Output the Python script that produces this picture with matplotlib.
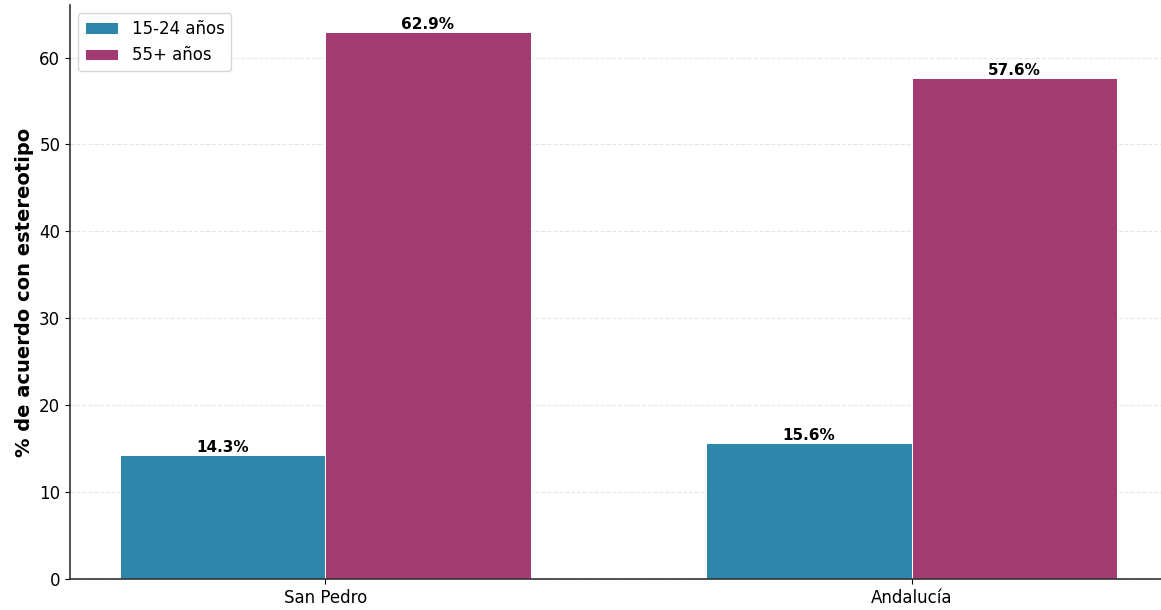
import numpy as np
import matplotlib
matplotlib.use("Agg")
from matplotlib import pyplot as plt

regions = ["San Pedro", "Andalucía"]
young = [14.3, 15.6]
old = [62.9, 57.6]
series_labels = ["15-24 años", "55+ años"]

W, H = 1161, 610
fig = plt.figure(figsize=(W / 100, H / 100), dpi=100)
ax = fig.add_axes([70 / W, 31 / H, 1097 / W, 574 / H])

x = np.arange(len(regions))
width = 0.35
b1 = ax.bar(x - width / 2, young, width, label=series_labels[0], color="#2E86AB",
            edgecolor="white", linewidth=0.7)
b2 = ax.bar(x + width / 2, old, width, label=series_labels[1], color="#A23B72",
            edgecolor="white", linewidth=0.7)

for bars in (b1, b2):
    for bar in bars:
        h = bar.get_height()
        ax.text(bar.get_x() + bar.get_width() / 2, h, f"{h:.1f}%",
                ha="center", va="bottom", fontsize=11, fontweight="bold")

ax.set_xticks(x)
ax.set_xticklabels(regions, fontsize=12)
ax.tick_params(axis="y", labelsize=12)
ax.set_ylabel("% de acuerdo con estereotipo", fontsize=14, fontweight="bold")
ax.set_ylim(0, max(old) * 1.05)
ax.yaxis.grid(True, linestyle="--", alpha=0.3)
ax.set_axisbelow(True)
ax.spines["top"].set_visible(False)
ax.spines["right"].set_visible(False)
for s in ("left", "bottom"):
    ax.spines[s].set_linewidth(1.2)
    ax.spines[s].set_color("#333333")
ax.legend(fontsize=12, loc="upper left")

fig.savefig("out.png", dpi=100)
